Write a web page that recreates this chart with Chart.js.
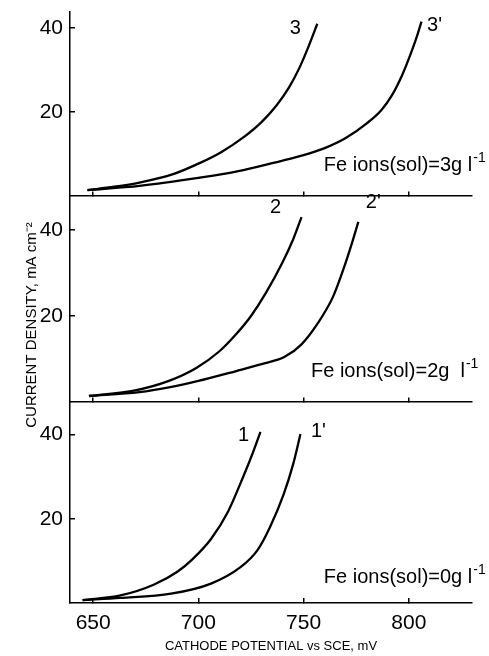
<!DOCTYPE html>
<html>
<head>
<meta charset="utf-8">
<script src="https://cdn.jsdelivr.net/npm/chart.js@4.4.1/dist/chart.umd.min.js"></script>
<style>
  html, body { margin: 0; padding: 0; background: #fff; }
  #wrap { position: relative; width: 489px; height: 656px; }
</style>
</head>
<body>
<div id="wrap"><canvas id="chart" width="489" height="656"></canvas></div>
<script>
// ---- tick labels ----
const xTicks = [650, 700, 750, 800];
const yTicks = [20, 40];

// ---- panel 3 : Fe ions 3 g/l ----
const potential3  = [647.3, 660, 672, 688, 700, 711, 722, 730, 737, 743, 748, 752.5, 756.5];
const current3    = [1.4, 2.2, 3.2, 5.2, 7.7, 10.5, 14.2, 17.6, 21.5, 25.8, 30.5, 35.8, 41.0];
const potential3p = [647.3, 672, 700, 719, 735, 749, 760, 770, 780, 787, 792, 797, 801, 803.5, 806];
const current3p   = [1.4, 2.4, 4.3, 5.9, 7.8, 9.6, 11.4, 13.8, 17.3, 20.5, 24, 29, 34, 37.5, 41.5];

// ---- panel 2 : Fe ions 2 g/l ----
const potential2  = [648, 670, 686, 699, 710, 718, 725, 732, 740, 745, 749];
const current2    = [1.4, 2.7, 4.9, 7.9, 11.8, 15.8, 20.0, 25.3, 32.5, 37.8, 43.0];
const potential2p = [648, 672, 686, 700, 718, 730, 741, 749, 757, 764, 769, 773, 776];
const current2p   = [1.4, 2.3, 3.4, 4.9, 7.2, 8.8, 10.5, 13.4, 18.5, 24.5, 31, 37, 41.9];

// ---- panel 1 : Fe ions 0 g/l ----
const potential1  = [645, 663, 679, 690, 697, 706, 714, 721, 726, 729.5];
const current1    = [0.7, 1.8, 4.4, 7.4, 10.3, 15.2, 21.6, 29.6, 35.8, 40.6];
const potential1p = [645, 663, 687, 706, 720, 728, 734, 740.5, 745, 748.5];
const current1p   = [0.7, 1.2, 2.2, 4.6, 8.5, 12.5, 18, 25.8, 32.9, 40.1];

// ---- texts ----
const curveNames = ['3', "3'", '2', "2'", '1', "1'"];
const panelNotes = ['Fe ions(sol)=3g l', 'Fe ions(sol)=2g  l', 'Fe ions(sol)=0g l'];
const noteSup = '-1';
const xTitle = 'CATHODE POTENTIAL vs SCE, mV';
const yTitle = 'CURRENT DENSITY, mA cm\u207B\u00B2';

const FONT = 'Liberation Sans, Arial, sans-serif';
const toXY = (xs, ys) => xs.map((x, i) => ({ x: x, y: ys[i] }));

// label placement: pixel offsets from each curve's last point (style only)
const curveLabelOffsets = [[-22, 5], [13, 4], [-26, -10], [15, -19], [-17, 4], [18, -3]];
// note anchors in data units per panel
const noteAnchors = [
  { axis: 'y3', x: 759.6, y: 6.0 },
  { axis: 'y2', x: 753.5, y: 5.8 },
  { axis: 'y1', x: 759.6, y: 4.7 }
];

function lineDs(xs, ys, yAxisID) {
  return {
    data: toXY(xs, ys), xAxisID: 'x', yAxisID: yAxisID,
    borderColor: '#000', borderWidth: 2.3, pointRadius: 0,
    cubicInterpolationMode: 'monotone', fill: false
  };
}

const datasets = [
  lineDs(potential3, current3, 'y3'),
  lineDs(potential3p, current3p, 'y3'),
  lineDs(potential2, current2, 'y2'),
  lineDs(potential2p, current2p, 'y2'),
  lineDs(potential1, current1, 'y1'),
  lineDs(potential1p, current1p, 'y1')
];

const gridInward = { drawOnChartArea: false, drawTicks: true, tickLength: -5, color: '#000', lineWidth: 1.5 };
const borderBlack = { display: true, color: '#000', width: 1.5 };
const tickFont = { family: FONT, size: 21 };
const noPad = s => { s.paddingTop = 0; s.paddingBottom = 0; s.paddingLeft = 0; s.paddingRight = 0; };

function yScale(max, weight) {
  return {
    type: 'linear', axis: 'y', position: 'left', stack: 'panels', stackWeight: weight,
    min: 0, max: max,
    afterBuildTicks: s => { s.ticks = yTicks.map(v => ({ value: v })); },
    afterFit: s => { s.width = 32; noPad(s); },
    grid: gridInward, border: borderBlack,
    ticks: { color: '#000', font: tickFont, padding: 12 }
  };
}
function panelXAxis(yId) {
  return {
    type: 'linear', axis: 'x', position: { [yId]: 0 }, min: 639, max: 830,
    afterBuildTicks: s => { s.ticks = xTicks.map(v => ({ value: v })); },
    afterFit: noPad,
    grid: gridInward, border: borderBlack,
    ticks: { display: false }
  };
}

const notesPlugin = {
  id: 'notes',
  afterDatasetsDraw(chart) {
    const ctx = chart.ctx;
    const xs = chart.scales.x;
    ctx.save();
    ctx.fillStyle = '#000';
    // curve names at the ends of the curves
    ctx.font = '20px ' + FONT;
    ctx.textAlign = 'center';
    ctx.textBaseline = 'middle';
    chart.data.datasets.forEach((ds, i) => {
      const last = ds.data[ds.data.length - 1];
      const px = xs.getPixelForValue(last.x) + curveLabelOffsets[i][0];
      const py = chart.scales[ds.yAxisID].getPixelForValue(last.y) + curveLabelOffsets[i][1];
      ctx.fillText(curveNames[i], px, py);
    });
    // panel notes
    ctx.textAlign = 'left';
    ctx.textBaseline = 'alphabetic';
    noteAnchors.forEach((a, i) => {
      const px = xs.getPixelForValue(a.x);
      const py = chart.scales[a.axis].getPixelForValue(a.y);
      ctx.font = '20px ' + FONT;
      ctx.fillText(panelNotes[i], px, py);
      const w = ctx.measureText(panelNotes[i]).width;
      ctx.font = '14px ' + FONT;
      ctx.fillText(noteSup, px + w + 1, py - 9);
    });
    ctx.restore();
  }
};

new Chart(document.getElementById('chart'), {
  type: 'line',
  data: { datasets: datasets },
  options: {
    responsive: false,
    animation: false,
    layout: { padding: { left: 0, right: 17, top: 12, bottom: 0 } },
    plugins: { legend: { display: false }, tooltip: { enabled: false } },
    scales: {
      x: {
        type: 'linear', position: 'bottom', min: 639, max: 830,
        afterBuildTicks: s => { s.ticks = xTicks.map(v => ({ value: v })); },
        afterFit: s => { s.height = 53; noPad(s); },
        grid: gridInward, border: borderBlack,
        ticks: { color: '#000', font: tickFont, padding: 13, maxRotation: 0 },
        title: { display: true, text: xTitle, color: '#000',
                 font: { family: FONT, size: 13 }, padding: { top: 0, bottom: 1.5 } }
      },
      x2: panelXAxis('y2'),
      x3: panelXAxis('y3'),
      y1: yScale(47.7, 201),
      y2: yScale(47.9, 206),
      y3: yScale(43.8, 184),
      yt: {
        type: 'linear', axis: 'y', position: 'left', stack: 'title', stackWeight: 556,
        afterFit: s => { s.width = 38; noPad(s); },
        grid: { display: false }, border: { display: false },
        ticks: { display: false },
        title: { display: true, text: yTitle, color: '#000',
                 font: { family: FONT, size: 15 }, padding: { top: 23, bottom: 0 } }
      },
      ytpad: {
        type: 'linear', axis: 'y', position: 'left', stack: 'title', stackWeight: 35,
        afterFit: s => { s.width = 38; noPad(s); },
        grid: { display: false }, border: { display: false },
        ticks: { display: false }, title: { display: false }
      }
    }
  },
  plugins: [notesPlugin]
});
</script>
</body>
</html>
